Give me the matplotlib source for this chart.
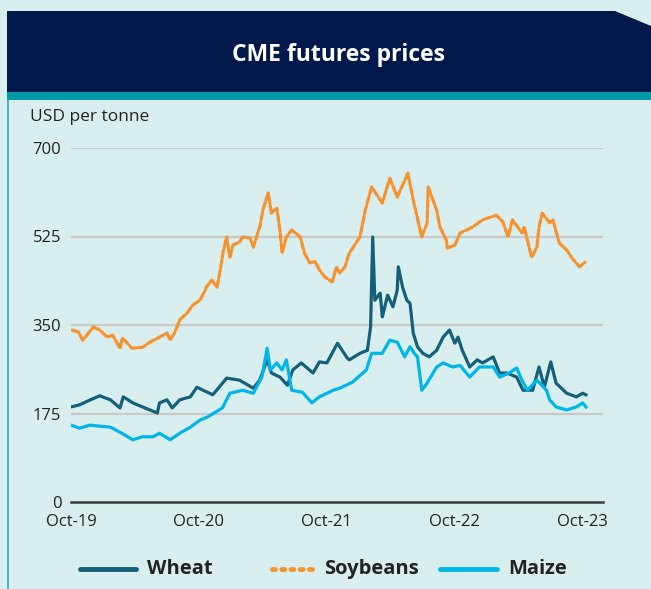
import matplotlib.pyplot as plt
from matplotlib.patches import Polygon, Rectangle
from matplotlib.lines import Line2D

plt.rcParams['font.family'] = ['Open Sans', 'DejaVu Sans']

# months after Oct-2019, USD per tonne
wheat_t = [0.0, 0.8, 1.8, 2.7, 3.7, 4.6, 4.9, 5.8, 6.7, 8.1, 8.3, 9.0, 9.5, 10.2, 11.2, 11.8,
           12.4, 13.3, 14.6, 15.8, 17.1, 17.7, 18.4, 18.8, 19.6, 20.3, 20.8, 21.6, 22.7, 23.3,
           24.0, 25.0, 25.9, 26.1, 27.1, 27.8, 28.1, 28.3, 28.5, 29.0, 29.2, 29.7, 30.2, 30.6,
           30.7, 31.1, 31.5, 31.8, 32.1, 32.5, 33.0, 33.6, 34.3, 34.9, 35.5, 36.0, 36.3, 36.7,
           37.4, 38.1, 38.6, 39.6, 40.2, 40.9, 41.8, 42.4, 43.3, 43.9, 44.4, 45.0, 45.5, 46.5,
           47.4, 48.0, 48.3]
wheat = [188, 192, 202, 210, 202, 186, 208, 196, 188, 176, 196, 202, 186, 202, 208, 227,
         221, 212, 245, 241, 225, 241, 281, 255, 247, 231, 261, 275, 255, 277,
         275, 314, 285, 281, 294, 300, 346, 524, 399, 413, 366, 409, 386, 419,
         465, 425, 399, 393, 334, 307, 294, 287, 300, 326, 340, 314, 326, 300,
         267, 281, 275, 287, 255, 255, 247, 221, 221, 267, 227, 277, 235, 215,
         208, 215, 212]

soy_t = [0.1, 0.7, 1.1, 2.1, 2.7, 3.4, 3.9, 4.6, 4.8, 5.2, 5.7, 6.7, 7.4, 8.3, 9.0, 9.3, 9.7,
         10.2, 10.9, 11.4, 12.1, 12.6, 12.7, 13.2, 13.7, 14.0, 14.3, 14.6, 14.9, 15.2, 15.8,
         16.1, 16.8, 17.1, 17.4, 17.7, 18.0, 18.5, 18.8, 19.3, 19.6, 19.8, 20.2, 20.7, 21.5,
         21.9, 22.4, 22.9, 23.3, 23.8, 24.5, 24.9, 25.2, 25.7, 26.1, 27.1, 27.6, 28.2, 29.2,
         29.9, 30.6, 31.6, 32.1, 32.9, 33.4, 33.5, 34.3, 34.6, 35.2, 35.3, 36.0, 36.5, 37.7,
         38.6, 39.9, 40.5, 41.0, 41.4, 42.3, 42.5, 43.2, 43.7, 43.9, 44.2, 44.9, 45.2, 45.8,
         46.5, 47.0, 47.7, 48.2]
soybeans = [340, 336, 320, 346, 340, 326, 330, 304, 324, 316, 304, 306, 316, 326, 334, 320, 334,
            360, 374, 389, 399, 419, 425, 439, 425, 459, 498, 524, 484, 508, 514,
            524, 522, 504, 524, 544, 577, 611, 571, 581, 538, 492, 524, 538, 524,
            492, 473, 475, 459, 445, 435, 465, 453, 465, 492, 524, 577, 623, 591,
            640, 603, 650, 597, 524, 552, 623, 577, 544, 518, 502, 508, 532, 544,
            558, 567, 554, 524, 558, 532, 544, 484, 504, 544, 571, 552, 558, 512,
            498, 482, 465, 474]

maize_t = [0.0, 0.8, 1.8, 2.7, 3.7, 4.6, 5.8, 6.7, 7.7, 8.3, 9.3, 10.2, 11.2, 12.1, 12.8,
           14.2, 14.9, 16.1, 17.1, 17.9, 18.4, 18.7, 19.3, 19.8, 20.2, 20.7, 21.7, 22.6, 23.3,
           24.6, 25.2, 25.9, 26.4, 27.7, 28.2, 29.2, 29.9, 30.6, 31.3, 31.8, 32.2, 32.5, 32.9,
           33.4, 34.3, 34.9, 35.8, 36.5, 37.4, 38.3, 39.6, 40.2, 41.1, 41.8, 42.3, 42.8, 43.7,
           44.6, 44.9, 45.5, 46.5, 47.4, 48.0, 48.3]
maize = [152, 146, 152, 150, 148, 138, 123, 129, 129, 136, 123, 136, 148, 162, 168,
         186, 215, 221, 215, 247, 304, 261, 275, 261, 281, 221, 217, 196, 208,
         221, 225, 232, 237, 261, 294, 294, 320, 316, 287, 307, 294, 287, 221,
         235, 267, 275, 267, 270, 247, 267, 267, 247, 255, 265, 241, 221, 241,
         221, 202, 188, 182, 188, 196, 188]

x_ticks = [0, 12, 24, 36, 48]
x_labels = ['Oct-19', 'Oct-20', 'Oct-21', 'Oct-22', 'Oct-23']
y_ticks = [0, 175, 350, 525, 700]

bg = '#d9efef'
navy = '#00194a'
teal = '#0099a8'
c_wheat = '#145f7a'
c_soy = '#f7922e'
c_maize = '#00b5e8'

fig = plt.figure(figsize=(6.51, 5.89), dpi=100)
fig.patch.set_facecolor(bg)

# header box with clipped corner
W, H = 651, 589
hdr = [(7, 11), (615, 11), (651, 26), (651, 92), (7, 92)]
fig.patches.append(Polygon([(x / W, 1 - y / H) for x, y in hdr], closed=True,
                           transform=fig.transFigure, facecolor=navy, edgecolor='none'))
fig.patches.append(Rectangle((7 / W, 1 - 100 / H), 1 - 7 / W, 8 / H,
                             transform=fig.transFigure, facecolor=teal, edgecolor='none'))
fig.lines.append(Line2D([8 / W, 8 / W], [0, 1 - 100 / H], transform=fig.transFigure,
                        color='#3aa9b3', lw=1.2))
fig.text(338 / W, 1 - 55 / H, 'CME futures prices', color='white', fontsize=16.5,
         fontweight='bold', ha='center', va='center')

ax = fig.add_axes([71 / W, 1 - 502 / H, (603 - 71) / W, (502 - 148) / H])
ax.set_facecolor('none')

ax.plot(wheat_t, wheat, color=c_wheat, lw=2.3, label='Wheat', solid_joinstyle='round')
ax.plot(soy_t, soybeans, color=c_soy, lw=2.3, linestyle=(0, (2.4, 0.8)),
        dash_capstyle='round', label='Soybeans')
ax.plot(maize_t, maize, color=c_maize, lw=2.3, label='Maize', solid_joinstyle='round')

ax.set_xlim(0, 49.9)
ax.set_ylim(0, 700)
for v in y_ticks[1:]:
    ax.axhline(v, color='#c9c9c9', lw=1.6, zorder=0)

# zero line as the bottom spine
for s in ['top', 'left', 'right']:
    ax.spines[s].set_visible(False)
ax.spines['bottom'].set_color('#3a3a3a')
ax.spines['bottom'].set_linewidth(1.8)

ax.set_xticks(x_ticks)
ax.set_xticklabels(x_labels)
ax.set_yticks(y_ticks)
ax.tick_params(length=0, labelsize=12, colors='#222222')
ax.tick_params(axis='x', pad=9)
ax.tick_params(axis='y', pad=7)

fig.text(30 / W, 1 - 117 / H, 'USD per tonne', fontsize=12.5, color='#222222', va='center')

# legend, laid out by hand as in the original (uneven spacing)
legend_items = [('Wheat', c_wheat, '-', 80, 136, 147),
                ('Soybeans', c_soy, (0, (0.6, 1.3)), 272, 316, 324),
                ('Maize', c_maize, '-', 440, 497, 508)]
ly = 1 - 569 / H
for name, col, ls, x0, x1, xt in legend_items:
    fig.lines.append(Line2D([x0 / W, x1 / W], [ly, ly], transform=fig.transFigure,
                            color=col, lw=3.5, linestyle=ls, solid_capstyle='round',
                            dash_capstyle='round'))
    fig.text(xt / W, ly, name, fontsize=14.5, fontweight='bold', color='#222222',
             va='center', ha='left')

fig.savefig('out.png', dpi=100, facecolor=bg)
